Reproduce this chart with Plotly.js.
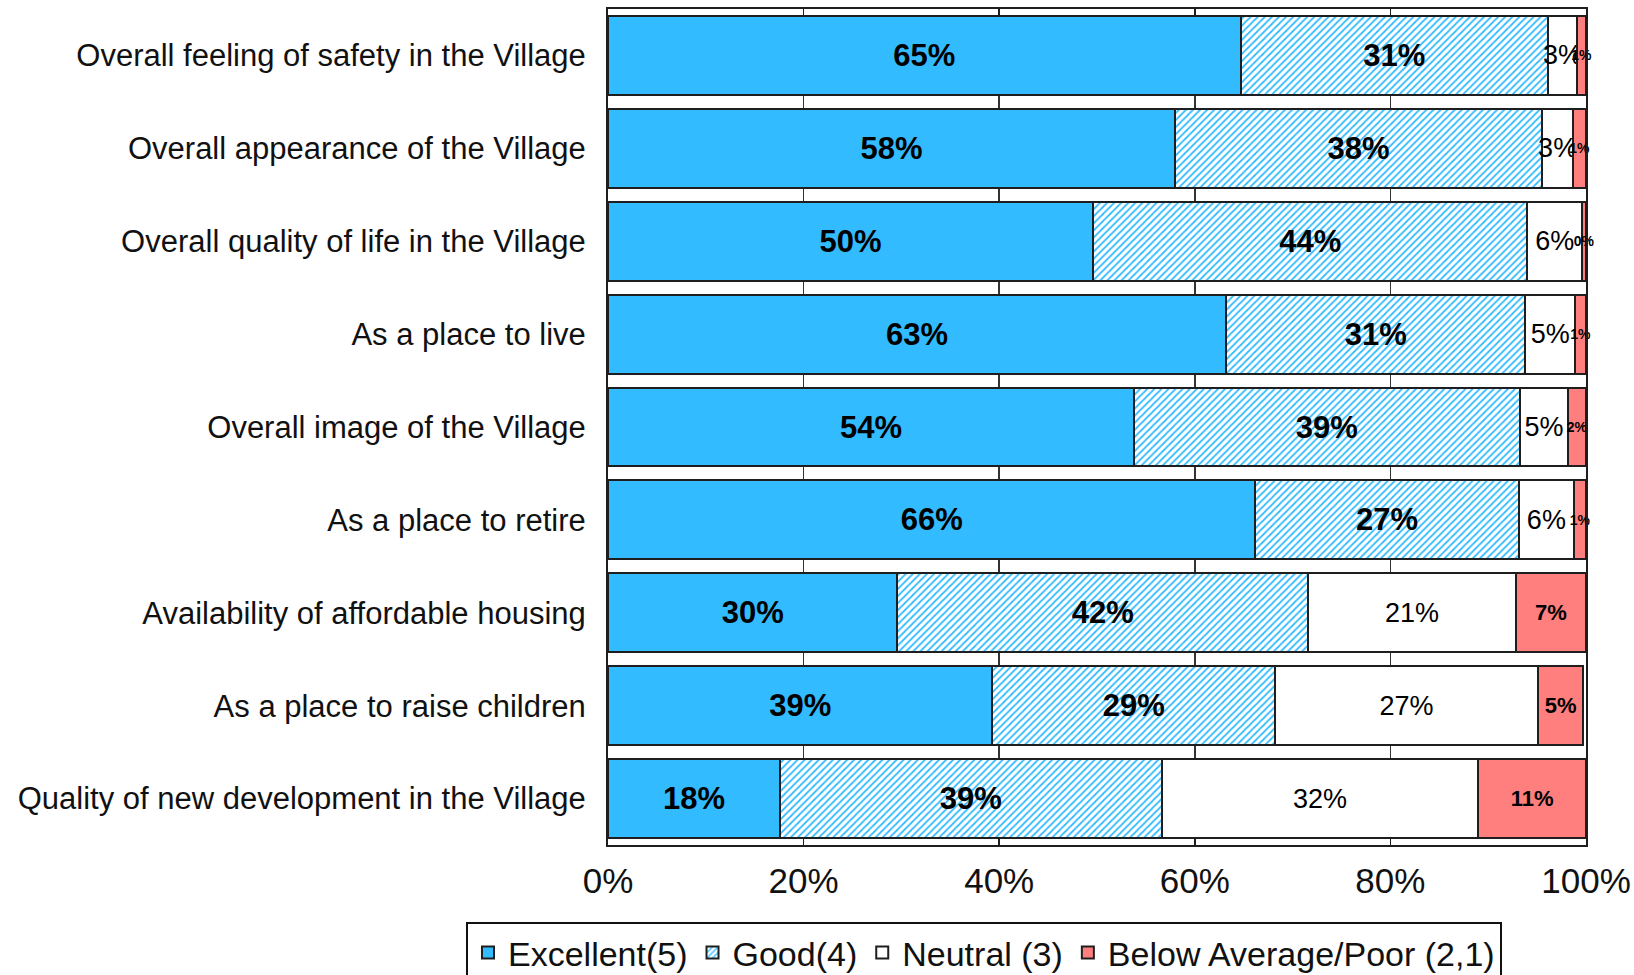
<!DOCTYPE html>
<html>
<head>
<meta charset="utf-8">
<script src="https://cdn.plot.ly/plotly-3.0.1.min.js"></script>
<style>
  html, body { margin: 0; padding: 0; background: #ffffff; }
  #chart { width: 1634px; height: 975px; }
</style>
</head>
<body>
<div id="chart"></div>
<script>
// ---- data (percent of respondents) ----
var categories = [
  "Overall feeling of safety in the Village",
  "Overall appearance of the Village",
  "Overall quality of life in the Village",
  "As a place to live",
  "Overall image of the Village",
  "As a place to retire",
  "Availability of affordable housing",
  "As a place to raise children",
  "Quality of new development in the Village"
];
var seriesNames = ["Excellent(5)", "Good(4)", "Neutral (3)", "Below Average/Poor (2,1)"];
var excellent = [64.7, 58.0, 49.6, 63.2, 53.8, 66.2, 29.6, 39.3, 17.6];
var good      = [31.4, 37.5, 44.4, 30.6, 39.4, 26.9, 42.0, 28.9, 39.0];
var neutral   = [ 3.0,  3.2,  5.6,  5.1,  5.0,  5.7, 21.2, 26.9, 32.4];
var belowPoor = [ 0.9,  1.3,  0.4,  1.1,  1.8,  1.2,  7.2,  4.6, 11.0];
var xTickVals = [0, 20, 40, 60, 80, 100];
var xTickText = ["0%", "20%", "40%", "60%", "80%", "100%"];

// ---- styling ----
var SANS = "'Liberation Sans', Arial, sans-serif";
var BLUE = "#33bbff";
var RED = "#ff7f7f";
var EDGE = "#1e1e1e";

function barTrace(name, values, marker, font) {
  return {
    type: "bar",
    orientation: "h",
    name: name,
    y: categories,
    x: values,
    marker: marker,
    texttemplate: "%{x:.0f}%",
    textposition: "inside",
    insidetextanchor: "middle",
    textangle: 0,
    constraintext: "none",
    cliponaxis: false,
    textfont: font,
    insidetextfont: font,
    hoverinfo: "name+x+y"
  };
}

var redSizes = belowPoor.map(function (v) { return v >= 4 ? 22 : 14; });

var traces = [
  barTrace(seriesNames[0], excellent,
    { color: BLUE, line: { color: EDGE, width: 2 } },
    { family: SANS, size: 31, color: "#000000", weight: "bold" }),
  barTrace(seriesNames[1], good,
    { color: "#ffffff", line: { color: EDGE, width: 2 },
      pattern: { shape: "/", fgcolor: BLUE, bgcolor: "#ffffff", size: 5, solidity: 0.35 } },
    { family: SANS, size: 31, color: "#000000", weight: "bold" }),
  barTrace(seriesNames[2], neutral,
    { color: "#ffffff", line: { color: EDGE, width: 2 } },
    { family: SANS, size: 27, color: "#000000" }),
  barTrace(seriesNames[3], belowPoor,
    { color: RED, line: { color: EDGE, width: 2 } },
    { family: SANS, size: redSizes, color: "#000000", weight: "bold" })
];

var layout = {
  width: 1634,
  height: 975,
  paper_bgcolor: "#ffffff",
  plot_bgcolor: "#ffffff",
  margin: { l: 608, r: 48, t: 9, b: 130, pad: 0, autoexpand: false },
  barmode: "stack",
  bargap: 0.15,
  showlegend: true,
  font: { family: SANS, color: "#111111" },
  xaxis: {
    range: [0, 100],
    tickmode: "array",
    tickvals: xTickVals,
    ticktext: xTickText,
    ticks: "inside",
    ticklen: 7,
    tickwidth: 1.5,
    tickcolor: EDGE,
    showgrid: true,
    gridcolor: "#333333",
    gridwidth: 1.5,
    zeroline: false,
    showline: true,
    linecolor: EDGE,
    linewidth: 2,
    mirror: "ticks",
    ticklabelstandoff: 4,
    tickfont: { family: SANS, size: 35, color: "#111111" },
    automargin: false,
    fixedrange: true
  },
  yaxis: {
    type: "category",
    categoryorder: "array",
    categoryarray: categories,
    autorange: "reversed",
    ticks: "",
    showgrid: false,
    zeroline: false,
    showline: true,
    linecolor: EDGE,
    linewidth: 2,
    mirror: true,
    ticklabelstandoff: 14,
    tickfont: { family: SANS, size: 31, color: "#111111" },
    automargin: false,
    fixedrange: true
  },
  legend: {
    orientation: "h",
    traceorder: "normal",
    x: -0.1452,
    xanchor: "left",
    y: -0.092,
    yanchor: "top",
    bordercolor: "#111111",
    borderwidth: 2,
    bgcolor: "#ffffff",
    font: { family: SANS, size: 34, color: "#111111" },
    itemwidth: 30,
    tracegroupgap: 0
  }
};

Plotly.newPlot("chart", traces, layout, { displayModeBar: false, staticPlot: true });
</script>
</body>
</html>
